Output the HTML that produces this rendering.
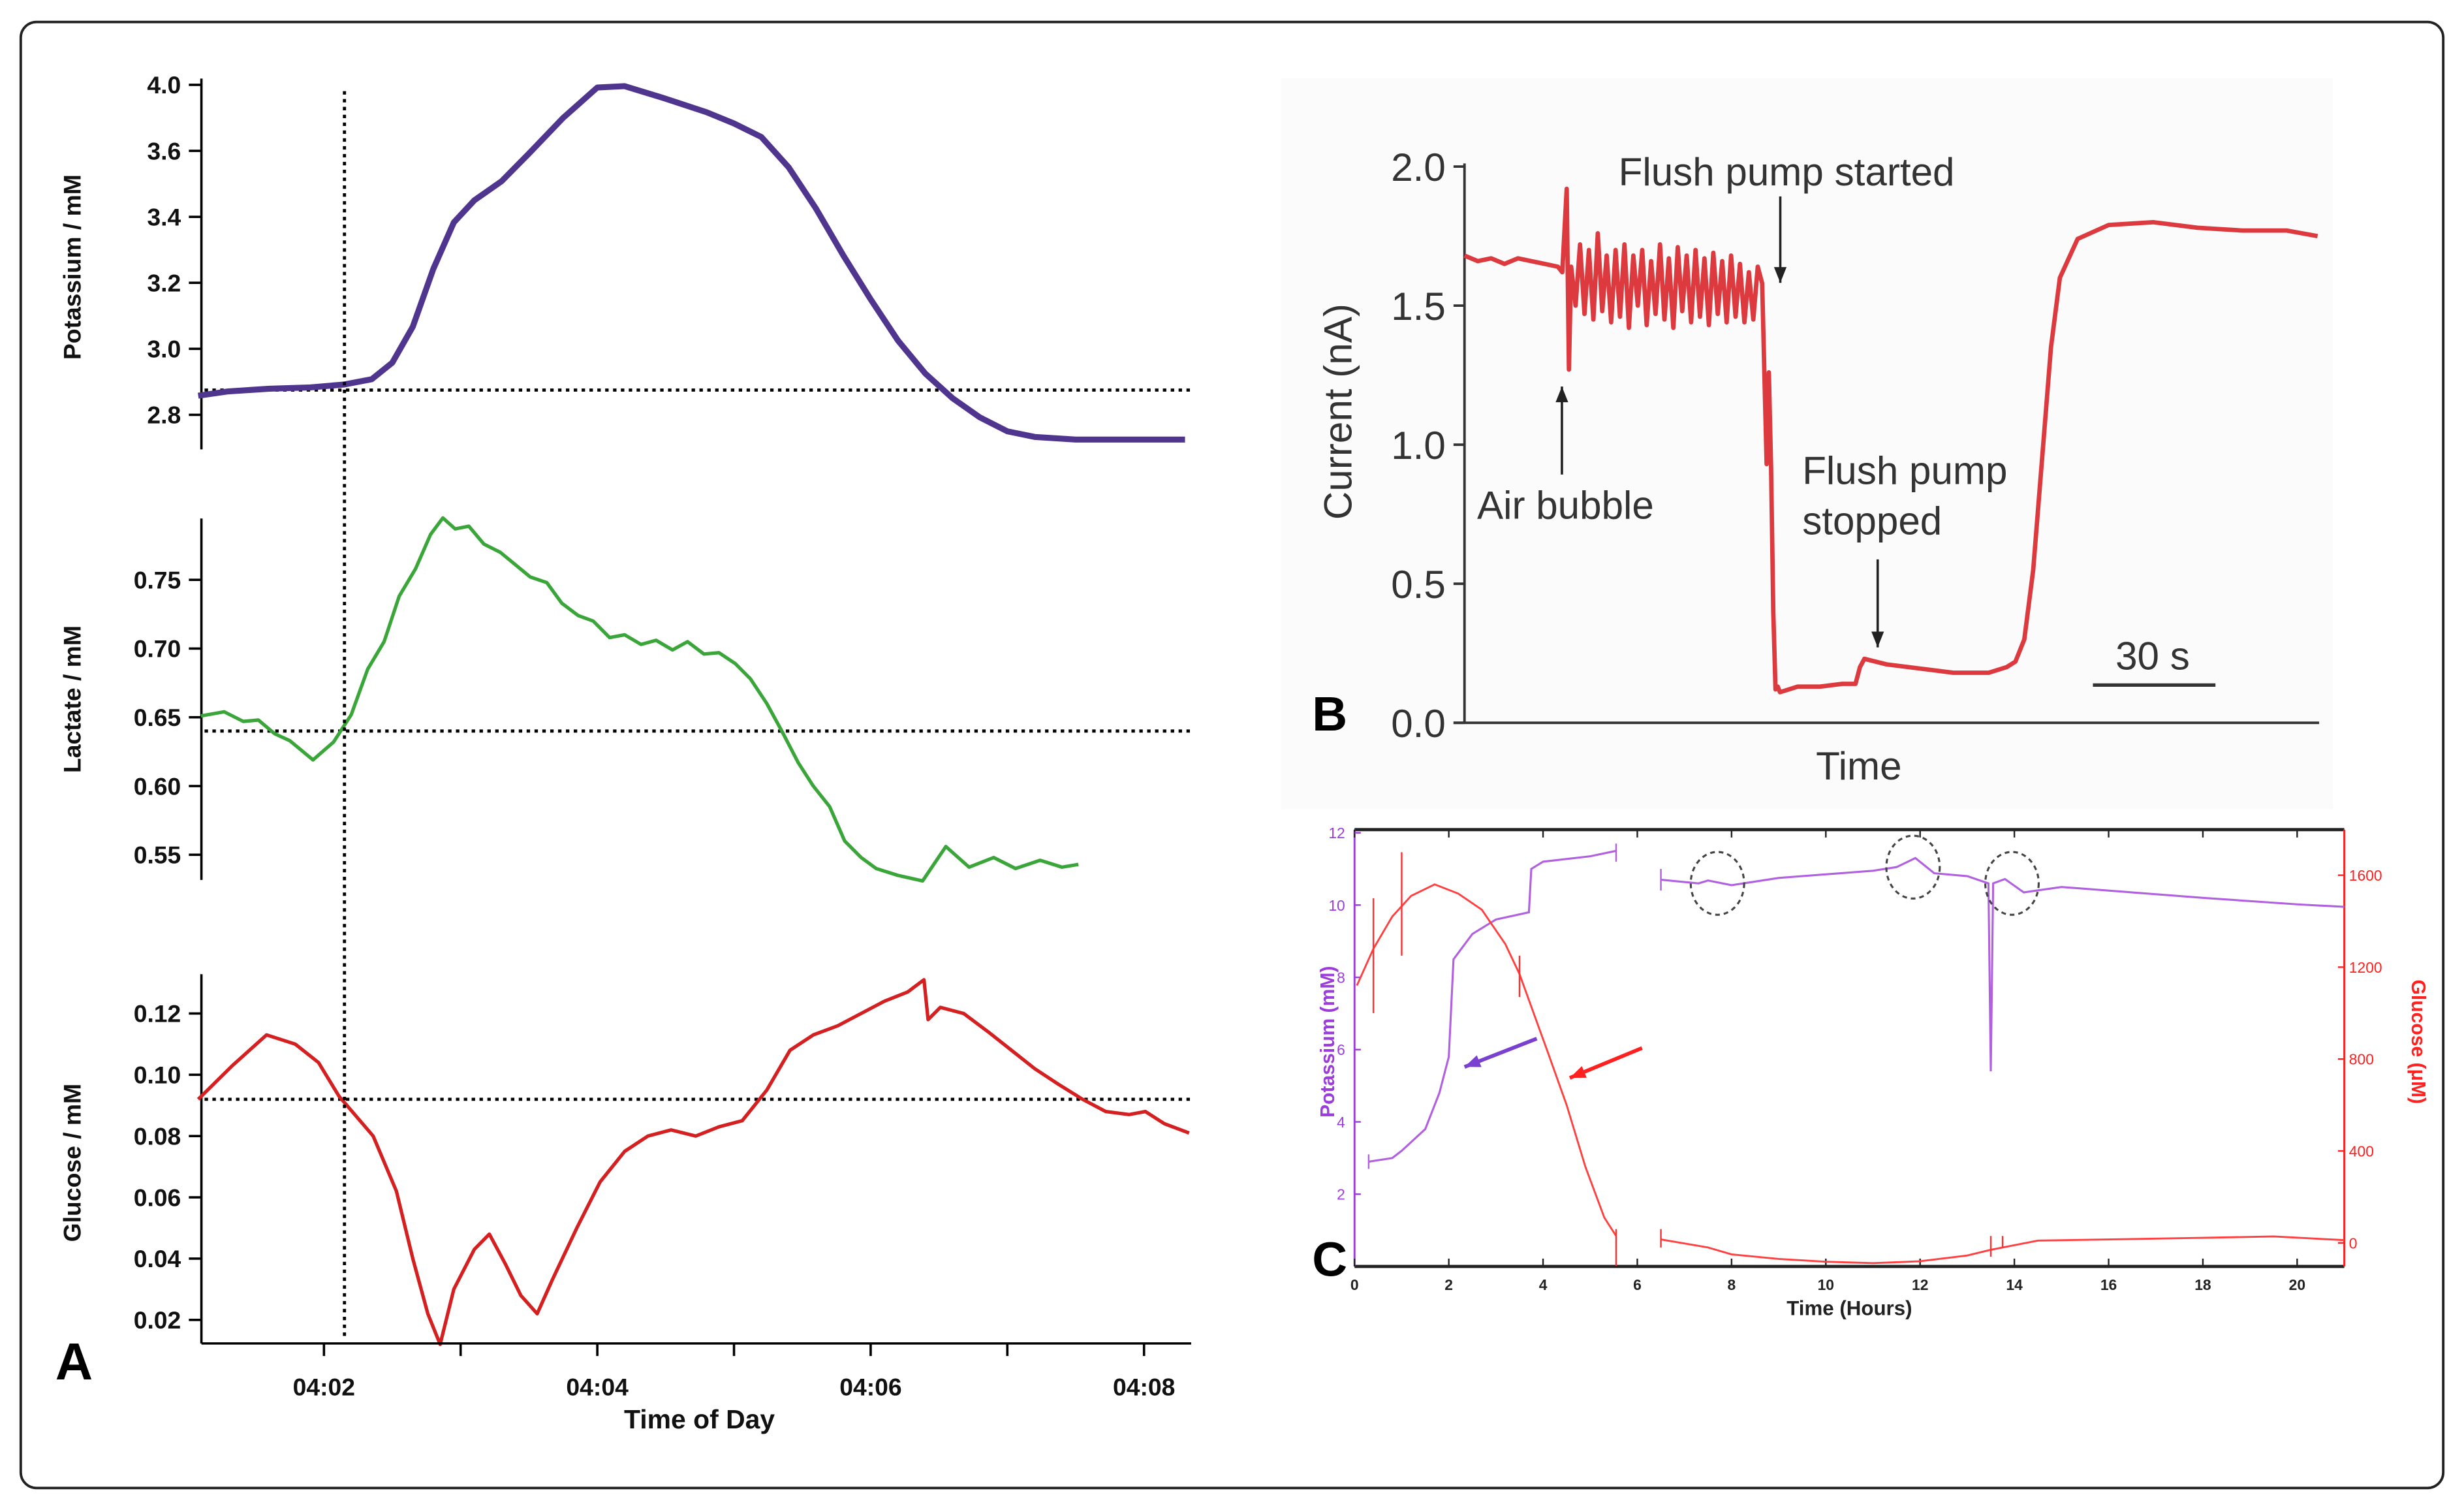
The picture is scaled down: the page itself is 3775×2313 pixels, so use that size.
<!DOCTYPE html>
<html><head><meta charset="utf-8"><style>
html,body{margin:0;padding:0;background:#fff;}
svg{display:block;font-family:"Liberation Sans",sans-serif;}
</style></head><body>
<svg id="fig" width="3775" height="2313" viewBox="0 0 1568 961" xmlns="http://www.w3.org/2000/svg">
<rect x="13" y="14" width="1542" height="933" rx="10" fill="#fff" stroke="#222" stroke-width="1.6"/>
<rect x="815" y="50" width="670" height="465" fill="#fbfbfb"/>
<g id="gA"></g>
<g id="gB"></g>
<g id="gC"></g>
</svg>
<script>
// ---------- Panel A data (time in minutes after 04:00) ----------
const aTimeTicks = [2, 3, 4, 5, 6, 7, 8];
const aTimeLabels = ["04:02", "", "04:04", "", "04:06", "", "04:08"];
const kTicks = [2.8, 3.0, 3.2, 3.4, 3.6, 3.8];
const kTickLabels = ["2.8", "3.0", "3.2", "3.4", "3.6", "4.0"];
const kTime = [1.08,1.3,1.6,1.9,2.15,2.35,2.5,2.65,2.8,2.95,3.1,3.3,3.5,3.75,4.0,4.2,4.5,4.8,5.0,5.2,5.4,5.6,5.8,6.0,6.2,6.4,6.6,6.8,7.0,7.2,7.5,7.8,8.0,8.3];
const kVal  = [2.858,2.871,2.879,2.883,2.892,2.908,2.958,3.067,3.242,3.383,3.45,3.508,3.592,3.7,3.792,3.796,3.758,3.717,3.683,3.642,3.55,3.425,3.283,3.15,3.025,2.925,2.85,2.792,2.75,2.733,2.725,2.725,2.725,2.725];
const kBaseline = 2.875;
const lTicks = [0.55, 0.60, 0.65, 0.70, 0.75];
const lTickLabels = ["0.55", "0.60", "0.65", "0.70", "0.75"];
const lTime = [1.1,1.27,1.41,1.52,1.64,1.75,1.92,2.07,2.2,2.32,2.44,2.55,2.67,2.78,2.87,2.96,3.06,3.17,3.29,3.4,3.51,3.63,3.74,3.86,3.97,4.09,4.2,4.32,4.43,4.55,4.66,4.78,4.89,5.01,5.12,5.24,5.35,5.47,5.58,5.7,5.81,5.93,6.04,6.2,6.38,6.55,6.72,6.9,7.06,7.24,7.4,7.52];
const lVal  = [0.651,0.654,0.647,0.648,0.638,0.633,0.619,0.632,0.652,0.685,0.705,0.738,0.758,0.783,0.795,0.787,0.789,0.776,0.77,0.761,0.752,0.748,0.733,0.724,0.72,0.708,0.71,0.703,0.706,0.699,0.705,0.696,0.697,0.689,0.678,0.66,0.64,0.617,0.6,0.585,0.56,0.548,0.54,0.535,0.531,0.556,0.541,0.548,0.54,0.546,0.541,0.543];
const lBaseline = 0.64;
const gTicks = [0.02, 0.04, 0.06, 0.08, 0.10, 0.12];
const gTickLabels = ["0.02", "0.04", "0.06", "0.08", "0.10", "0.12"];
const gTime = [1.08,1.33,1.58,1.79,1.96,2.11,2.36,2.53,2.65,2.76,2.85,2.95,3.1,3.21,3.33,3.44,3.56,3.67,3.85,4.02,4.2,4.37,4.54,4.72,4.89,5.06,5.24,5.41,5.58,5.76,5.93,6.1,6.27,6.39,6.42,6.51,6.68,6.86,7.03,7.2,7.37,7.55,7.72,7.89,8.01,8.15,8.33];
const gVal  = [0.092,0.103,0.113,0.11,0.104,0.093,0.08,0.062,0.04,0.022,0.012,0.03,0.043,0.048,0.038,0.028,0.022,0.033,0.05,0.065,0.075,0.08,0.082,0.08,0.083,0.085,0.095,0.108,0.113,0.116,0.12,0.124,0.127,0.131,0.118,0.122,0.12,0.114,0.108,0.102,0.097,0.092,0.088,0.087,0.088,0.084,0.081];
const gBaseline = 0.092;
const markerTime = 2.15;

// ---------- Panel B data ----------
const bTicks = [0.0, 0.5, 1.0, 1.5, 2.0];
const bTickLabels = ["0.0", "0.5", "1.0", "1.5", "2.0"];
const bTime = [0,3,6,9,12,15,18,21,22,23,23.5,24,25,26,27,28,29,30,31,32,33,34,35,36,37,38,39,40,41,42,43,44,45,46,47,48,49,50,51,52,53,54,55,56,57,58,59,60,61,62,63,64,65,66,67,67.5,68,68.5,69,69.5,70,70.5,71,75,80,85,88,89,90,95,100,105,110,115,118,120,122,124,126,128,130,132,134,138,145,155,165,175,185,192];
const bVal  = [1.68,1.66,1.67,1.65,1.67,1.66,1.65,1.64,1.62,1.92,1.27,1.64,1.5,1.72,1.47,1.7,1.45,1.76,1.48,1.68,1.44,1.7,1.46,1.72,1.42,1.68,1.5,1.7,1.43,1.66,1.47,1.72,1.45,1.67,1.42,1.71,1.48,1.68,1.44,1.7,1.46,1.67,1.43,1.69,1.47,1.66,1.44,1.68,1.46,1.65,1.44,1.62,1.45,1.64,1.58,1.25,0.93,1.26,0.92,0.4,0.12,0.13,0.11,0.13,0.13,0.14,0.14,0.2,0.23,0.21,0.2,0.19,0.18,0.18,0.18,0.19,0.2,0.22,0.3,0.55,0.95,1.35,1.6,1.74,1.79,1.8,1.78,1.77,1.77,1.75,1.74,1.71];

// ---------- Panel C data ----------
const cTimeTicks = [0,2,4,6,8,10,12,14,16,18,20];
const cKTicks = [2,4,6,8,10,12];
const cGTicks = [0,400,800,1200,1600];
const cKTime1 = [0.3,0.8,1.0,1.5,1.8,2.0,2.1,2.5,3.0,3.7,3.75,4.0,5.0,5.55];
const cKVal1  = [2.9,3.0,3.2,3.8,4.8,5.8,8.5,9.2,9.6,9.8,11.0,11.2,11.35,11.5];
const cKTime2 = [6.5,7.3,7.5,8.0,9.0,10.0,11.0,11.5,11.9,12.3,13.0,13.45,13.5,13.55,13.8,14.2,15.0,16.0,18.0,20.0,21.0];
const cKVal2  = [10.7,10.6,10.68,10.55,10.75,10.85,10.95,11.05,11.3,10.88,10.8,10.6,5.4,10.6,10.72,10.35,10.5,10.4,10.2,10.02,9.95];
const cGTime1 = [0.05,0.4,0.8,1.2,1.7,2.2,2.7,3.2,3.5,3.8,4.1,4.5,4.9,5.3,5.55];
const cGVal1  = [1120,1280,1420,1510,1560,1520,1450,1300,1170,1000,830,600,330,110,30];
const cGTime2 = [6.5,7.5,8.0,9.0,10.0,11.0,12.0,13.0,13.5,14.5,16.0,18.0,19.5,21.0];
const cGVal2  = [15,-20,-50,-70,-82,-88,-80,-55,-30,10,15,22,28,12];

const NS = "http://www.w3.org/2000/svg";
function el(parent, tag, attrs, text){
  const e = document.createElementNS(NS, tag);
  for (const k in attrs) e.setAttribute(k, attrs[k]);
  if (text !== undefined) e.textContent = text;
  parent.appendChild(e);
  return e;
}
function lin(d0,d1,r0,r1){ return v => r0 + (v-d0)/(d1-d0)*(r1-r0); }
function pathD(xs, ys, sx, sy){ return xs.map((t,i)=>(i?"L":"M")+sx(t).toFixed(2)+","+sy(ys[i]).toFixed(2)).join(""); }

// ===== Panel A =====
const gA = document.getElementById("gA");
const ax = lin(2, 8, 206, 728);
const axisX0 = 128, axisX1 = 758;
function subplot(name, ticks, labels, ys, yTop, yBot, times, vals, color, width, base, ylabel, yLabelY){
  const g = el(gA, "g", {});
  
  
  const yl = el(g, "line", {x1:axisX0, x2:axisX0, y1:yTop, y2:yBot, stroke:"#000", "stroke-width":1.5});
  
  
  ticks.forEach((v,i)=>{
    const y = ys(v);
    const t = el(g, "line", {x1:axisX0-8, x2:axisX0, y1:y, y2:y, stroke:"#000", "stroke-width":1.5});
    
    
    const tx = el(g, "text", {x:axisX0-13, y:y+5.5, "text-anchor":"end", "font-size":15.5, "font-weight":"bold", fill:"#111"}, labels[i]);
    
    
  });
  const lab = el(g, "text", {x:0, y:0, transform:"translate(51,"+yLabelY+") rotate(-90)", "text-anchor":"middle", "font-size":15.5, "font-weight":"bold", fill:"#111"}, ylabel);
  
  
  const bl = el(g, "line", {x1:130, x2:760, y1:ys(base), y2:ys(base), stroke:"#000", "stroke-width":2, "stroke-dasharray":"2.2,2.8"});
  
  
  const p = el(g, "path", {d:pathD(times, vals, ax, ys), fill:"none", stroke:color, "stroke-width":width, "stroke-linejoin":"round"});
  
  
}
const kY = lin(2.8, 3.8, 264, 54);
subplot("potassium", kTicks, kTickLabels, kY, 50, 286, kTime, kVal, "#50358f", 3.8, kBaseline, "Potassium / mM", 170);
const lY = lin(0.55, 0.75, 544, 369);
subplot("lactate", lTicks, lTickLabels, lY, 330, 560, lTime, lVal, "#3aa63a", 2.2, lBaseline, "Lactate / mM", 445);
const gY = lin(0.02, 0.12, 840, 645);
subplot("glucose", gTicks, gTickLabels, gY, 620, 855, gTime, gVal, "#d42020", 2.2, gBaseline, "Glucose / mM", 740);
const xa = el(gA, "line", {x1:axisX0, x2:axisX1, y1:855, y2:855, stroke:"#000", "stroke-width":1.5});


aTimeTicks.forEach((v,i)=>{
  const t = el(gA, "line", {x1:ax(v), x2:ax(v), y1:855, y2:863, stroke:"#000", "stroke-width":1.5});
  
  
  if (aTimeLabels[i]) {
    const tx = el(gA, "text", {x:ax(v), y:888, "text-anchor":"middle", "font-size":15.5, "font-weight":"bold", fill:"#111"}, aTimeLabels[i]);
    
    
  }
});
const xt = el(gA, "text", {x:445, y:909, "text-anchor":"middle", "font-size":17, "font-weight":"bold", fill:"#111"}, "Time of Day");


const vm = el(gA, "line", {x1:ax(markerTime), x2:ax(markerTime), y1:58, y2:852, stroke:"#000", "stroke-width":2, "stroke-dasharray":"2.2,2.8"});


const aL = el(gA, "text", {x:35, y:878, "font-size":33, "font-weight":"bold", fill:"#000"}, "A");



// ===== Panel B =====
const gB = document.getElementById("gB");
const bx = lin(0, 192, 932, 1475);
const by = lin(0, 2, 460, 106);
const bya = el(gB, "line", {x1:932, x2:932, y1:104, y2:460, stroke:"#333", "stroke-width":1.6});


const bxa = el(gB, "line", {x1:925, x2:1476, y1:460, y2:460, stroke:"#333", "stroke-width":1.6});


bTicks.forEach((v,i)=>{
  const t = el(gB, "line", {x1:925, x2:932, y1:by(v), y2:by(v), stroke:"#333", "stroke-width":1.6});
  
  
  const tx = el(gB, "text", {x:920, y:by(v)+9, "text-anchor":"end", "font-size":25, fill:"#333"}, bTickLabels[i]);
  
  
});
const bp = el(gB, "path", {d:pathD(bTime, bVal, bx, by), fill:"none", stroke:"#dc3a3f", "stroke-width":2.8, "stroke-linejoin":"round"});


const bYT = el(gB, "text", {x:0, y:0, transform:"translate(860,262) rotate(-90)", "text-anchor":"middle", "font-size":25, fill:"#333"}, "Current (nA)");


const bXT = el(gB, "text", {x:1183, y:496, "text-anchor":"middle", "font-size":25, fill:"#333"}, "Time");


const bLab = el(gB, "text", {x:835, y:465, "font-size":31, "font-weight":"bold", fill:"#000"}, "B");


const sb = el(gB, "line", {x1:1332, x2:1410, y1:436, y2:436, stroke:"#333", "stroke-width":2.2});


const sbt = el(gB, "text", {x:1370, y:426, "text-anchor":"middle", "font-size":25, fill:"#333"}, "30 s");


function arrow(g, x1,y1,x2,y2,color,w,name){
  const a = el(g, "line", {x1:x1,y1:y1,x2:x2,y2:y2,stroke:color,"stroke-width":w});
  
  
  const ang = Math.atan2(y2-y1, x2-x1), L = 10, W = 4;
  const bx0 = x2 - L*Math.cos(ang), by0 = y2 - L*Math.sin(ang);
  const px = -Math.sin(ang)*W, py = Math.cos(ang)*W;
  const h = el(g, "polygon", {points:`${x2},${y2} ${bx0+px},${by0+py} ${bx0-px},${by0-py}`, fill:color});
  
  
}
const t1 = el(gB, "text", {x:1030, y:118, "font-size":25, fill:"#333"}, "Flush pump started");


arrow(gB, 1133,125,1133,180,"#222",1.5,"flush-start-arrow");
const t2 = el(gB, "text", {x:940, y:330, "font-size":25, fill:"#333"}, "Air bubble");


arrow(gB, 994,302,994,246,"#222",1.5,"air-bubble-arrow");
const t3 = el(gB, "text", {x:1147, y:308, "font-size":25, fill:"#333"}, "Flush pump");


const t4 = el(gB, "text", {x:1147, y:340, "font-size":25, fill:"#333"}, "stopped");


arrow(gB, 1195,356,1195,412,"#222",1.5,"flush-stop-arrow");

// ===== Panel C =====
const gC = document.getElementById("gC");
const cx = lin(0, 20, 862, 1462);
const cky = lin(0, 12, 806, 530);
const cgy = lin(0, 1600, 791, 557);
const frame = [[862,528,1492,528,"#222"],[862,806,1492,806,"#222"],[862,528,862,806,"#9a3ddb"],[1492,528,1492,806,"#ff2020"]];
frame.forEach((f,i)=>{
  const l = el(gC, "line", {x1:f[0],y1:f[1],x2:f[2],y2:f[3],stroke:f[4],"stroke-width":i<2?2:1.2});
  
  
});
cTimeTicks.forEach(v=>{
  const t = el(gC, "line", {x1:cx(v),x2:cx(v),y1:806,y2:801,stroke:"#222","stroke-width":1});
  
  
  const t2 = el(gC, "line", {x1:cx(v),x2:cx(v),y1:528,y2:533,stroke:"#222","stroke-width":1});
  
  
  const tx = el(gC, "text", {x:cx(v), y:821, "text-anchor":"middle", "font-size":9.5, "font-weight":"bold", fill:"#222"}, String(v));
  
  
});
cKTicks.forEach(v=>{
  const t = el(gC, "line", {x1:862,x2:866,y1:cky(v),y2:cky(v),stroke:"#9a3ddb","stroke-width":1});
  
  
  const tx = el(gC, "text", {x:856, y:cky(v)+3.5, "text-anchor":"end", "font-size":9.5, fill:"#9a3ddb"}, String(v));
  
  
});
cGTicks.forEach(v=>{
  const t = el(gC, "line", {x1:1488,x2:1492,y1:cgy(v),y2:cgy(v),stroke:"#ff2020","stroke-width":1});
  
  
  const tx = el(gC, "text", {x:1495, y:cgy(v)+3.5, "font-size":9.5, fill:"#ff2020"}, String(v));
  
  
});
[[cKTime1,cKVal1],[cKTime2,cKVal2]].forEach((s,i)=>{
  const p = el(gC, "path", {d:pathD(s[0], s[1], cx, cky), fill:"none", stroke:"#b160e0", "stroke-width":1.3});
  
  
});
[[cGTime1,cGVal1],[cGTime2,cGVal2]].forEach((s,i)=>{
  const p = el(gC, "path", {d:pathD(s[0], s[1], cx, cgy), fill:"none", stroke:"#ff4040", "stroke-width":1.2});
  
  
});
[[0.4,1250,1000,1500],[1.0,1480,1250,1700],[3.5,1150,1070,1250]].forEach(m=>{
  const l = el(gC, "line", {x1:cx(m[0]),x2:cx(m[0]),y1:cgy(m[2]),y2:cgy(m[3]),stroke:"#ff3030","stroke-width":1});
  
  
});
[[5.55,-100,60],[6.5,-20,60],[13.5,-60,30],[13.75,-20,30]].forEach(m=>{
  const l = el(gC, "line", {x1:cx(m[0]),x2:cx(m[0]),y1:cgy(m[1]),y2:cgy(m[2]),stroke:"#ff3030","stroke-width":1});
  
  
});
[[0.3,2.7,3.1],[5.55,11.2,11.7],[6.5,10.4,11.0]].forEach(m=>{
  const l = el(gC, "line", {x1:cx(m[0]),x2:cx(m[0]),y1:cky(m[1]),y2:cky(m[2]),stroke:"#b160e0","stroke-width":1});
  
  
});
[[7.7,10.6],[11.85,11.05],[13.95,10.6]].forEach(c=>{
  const e = el(gC, "ellipse", {cx:cx(c[0]), cy:cky(c[1]), rx:17, ry:20, fill:"none", stroke:"#444", "stroke-width":1.3, "stroke-dasharray":"3,2.5"});
  
  
});
arrow(gC, 978,661,932,679,"#7a40d0",2.4,"c-potassium-arrow");
arrow(gC, 1045,667,999,686,"#ff2020",2.4,"c-glucose-arrow");
const cyl = el(gC, "text", {x:0, y:0, transform:"translate(849,663) rotate(-90)", "text-anchor":"middle", "font-size":12.5, "font-weight":"bold", fill:"#9a3ddb"}, "Potassium (mM)");


const cgl = el(gC, "text", {x:0, y:0, transform:"translate(1535,663) rotate(90)", "text-anchor":"middle", "font-size":12.5, "font-weight":"bold", fill:"#ff2020"}, "Glucose (μM)");


const cxt = el(gC, "text", {x:1177, y:837, "text-anchor":"middle", "font-size":13, "font-weight":"bold", fill:"#222"}, "Time (Hours)");


const cL = el(gC, "text", {x:835, y:812, "font-size":31, "font-weight":"bold", fill:"#000"}, "C");


</script>
</body></html>
